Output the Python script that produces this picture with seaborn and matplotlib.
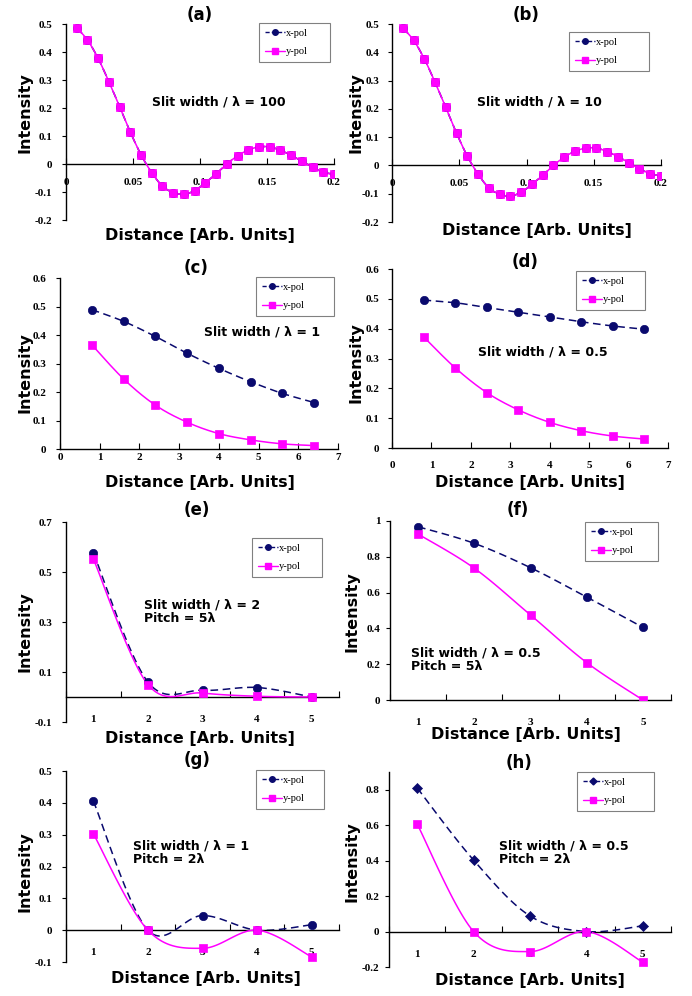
import numpy as np
import pandas as pd
import matplotlib
matplotlib.use("Agg")
import matplotlib.pyplot as plt
from matplotlib.lines import Line2D
import seaborn as sns

sns.set_style("white")
plt.rcParams['font.family'] = ['DejaVu Sans']
plt.rcParams['text.color'] = 'black'
plt.rcParams['axes.labelcolor'] = 'black'
plt.rcParams['xtick.color'] = 'black'
plt.rcParams['ytick.color'] = 'black'

# ---------------- data ----------------
dist_ab = [0.008 * k for k in range(1, 26)]
ypol_a = [0.486, 0.443, 0.377, 0.294, 0.205, 0.114, 0.033, -0.031, -0.079, -0.102,
          -0.108, -0.095, -0.067, -0.035, 0.000, 0.029, 0.050, 0.061, 0.061, 0.049,
          0.031, 0.010, -0.012, -0.029, -0.037]
xpol_a = ypol_a
ypol_b = [0.486, 0.443, 0.377, 0.294, 0.205, 0.114, 0.033, -0.031, -0.079, -0.102,
          -0.108, -0.095, -0.067, -0.035, 0.000, 0.029, 0.050, 0.061, 0.061, 0.049,
          0.031, 0.010, -0.012, -0.029, -0.037]
xpol_b = ypol_b

dist_cd = [0.8, 1.6, 2.4, 3.2, 4.0, 4.8, 5.6, 6.4]
xpol_c = [0.489, 0.448, 0.395, 0.336, 0.283, 0.236, 0.195, 0.163]
ypol_c = [0.366, 0.246, 0.154, 0.094, 0.054, 0.032, 0.018, 0.012]
xpol_d = [0.496, 0.487, 0.471, 0.455, 0.439, 0.423, 0.409, 0.398]
ypol_d = [0.373, 0.269, 0.186, 0.128, 0.086, 0.058, 0.040, 0.030]

dist_cat = [1, 2, 3, 4, 5]
xpol_e = [0.577, 0.060, 0.027, 0.038, 0.000]
ypol_e = [0.553, 0.050, 0.016, 0.003, 0.000]
xpol_f = [0.968, 0.875, 0.739, 0.575, 0.406]
ypol_f = [0.927, 0.736, 0.475, 0.209, 0.000]
xpol_g = [0.406, 0.000, 0.046, 0.000, 0.017]
ypol_g = [0.303, 0.000, -0.057, 0.000, -0.084]
xpol_h = [0.810, 0.403, 0.088, 0.000, 0.032]
ypol_h = [0.606, 0.000, -0.113, 0.000, -0.173]

series_names = ["x-pol", "y-pol"]
titles = ["(a)", "(b)", "(c)", "(d)", "(e)", "(f)", "(g)", "(h)"]
notes = ["Slit width / \u03bb = 100", "Slit width / \u03bb = 10",
         "Slit width / \u03bb = 1", "Slit width / \u03bb = 0.5",
         "Slit width / \u03bb = 2\nPitch = 5\u03bb", "Slit width / \u03bb = 0.5\nPitch = 5\u03bb",
         "Slit width / \u03bb = 1\nPitch = 2\u03bb", "Slit width / \u03bb = 0.5\nPitch = 2\u03bb"]
xlabel_text = "Distance [Arb. Units]"
ylabel_text = "Intensity"

NAVY = "#0a0a6e"
PINK = "#ff00ff"

W, H = 692, 996
fig = plt.figure(figsize=(W / 100, H / 100), dpi=100)


def rect(l, r, t, b):
    return [l / W, 1 - b / H, (r - l) / W, (b - t) / H]


def smooth(x, y, n=24):
    """Excel-like smoothed line (Catmull-Rom) through the data points."""
    x = np.asarray(x, float)
    y = np.asarray(y, float)
    P = np.column_stack([x, y])
    P = np.vstack([P[0], P, P[-1]])
    out = []
    for i in range(1, len(P) - 2):
        p0, p1, p2, p3 = P[i - 1], P[i], P[i + 1], P[i + 2]
        t = np.linspace(0, 1, n, endpoint=False)[:, None]
        pts = 0.5 * ((2 * p1) + (-p0 + p2) * t + (2 * p0 - 5 * p1 + 4 * p2 - p3) * t ** 2
                     + (-p0 + 3 * p1 - 3 * p2 + p3) * t ** 3)
        out.append(pts)
    out.append(P[-2][None, :])
    out = np.vstack(out)
    return out[:, 0], out[:, 1]


tickfont = dict(family=['Liberation Serif'], weight='bold', size=8, color='black')

panels = [
    dict(x=dist_ab, xp=xpol_a, yp=ypol_a, r=(66, 334, 24, 220), xlim=(0, 0.2), ylim=(-0.2, 0.5),
         yt=[-0.2, -0.1, 0, 0.1, 0.2, 0.3, 0.4, 0.5], xt=[0, 0.05, 0.1, 0.15, 0.2], cat=False, mk='o',
         ytl=['-0.2', '-0.1', '0', '0.1', '0.2', '0.3', '0.4', '0.5'], xtl=['0', '0.05', '0.1', '0.15', '0.2'],
         leg=(259, 23, 71, 41), title=(200, 15), note=(219, 102, 'center'), xl=(200, 235), yl=(25, 113),
         xpad=10, ypad=7),
    dict(x=dist_ab, xp=xpol_b, yp=ypol_b, r=(392, 661, 24, 222), xlim=(0, 0.2), ylim=(-0.2, 0.5),
         yt=[-0.2, -0.1, 0, 0.1, 0.2, 0.3, 0.4, 0.5], xt=[0, 0.05, 0.1, 0.15, 0.2], cat=False, mk='o',
         ytl=['-0.2', '-0.1', '0', '0.1', '0.2', '0.3', '0.4', '0.5'], xtl=['0', '0.05', '0.1', '0.15', '0.2'],
         leg=(569, 32, 80, 36), title=(526, 15), note=(539, 102, 'center'), xl=(537, 231), yl=(356, 113),
         xpad=10, ypad=6),
    dict(x=dist_cd, xp=xpol_c, yp=ypol_c, r=(60, 338, 278, 449), xlim=(0, 7), ylim=(0, 0.6),
         yt=[0, 0.1, 0.2, 0.3, 0.4, 0.5, 0.6], xt=[0, 1, 2, 3, 4, 5, 6, 7], cat=False, mk='o',
         ytl=['0', '0.1', '0.2', '0.3', '0.4', '0.5', '0.6'], xtl=['0', '1', '2', '3', '4', '5', '6', '7'],
         leg=(256, 277, 78, 35), title=(196, 268), note=(262, 332, 'center'), xl=(200, 482), yl=(25, 373),
         xpad=3, ypad=7),
    dict(x=dist_cd, xp=xpol_d, yp=ypol_d, r=(392, 668, 269, 448), xlim=(0, 7), ylim=(0, 0.6),
         yt=[0, 0.1, 0.2, 0.3, 0.4, 0.5, 0.6], xt=[0, 1, 2, 3, 4, 5, 6, 7], cat=False, mk='o',
         ytl=['0', '0.1', '0.2', '0.3', '0.4', '0.5', '0.6'], xtl=['0', '1', '2', '3', '4', '5', '6', '7'],
         leg=(576, 271, 69, 35), title=(525, 262), note=(543, 352, 'center'), xl=(530, 482), yl=(356, 363),
         xpad=9, ypad=6),
    dict(x=dist_cat, xp=xpol_e, yp=ypol_e, r=(66, 339, 522, 722), xlim=(0.5, 5.5), ylim=(-0.1, 0.7),
         yt=[-0.1, 0.1, 0.3, 0.5, 0.7], xt=dist_cat, cat=True, mk='o',
         ytl=['-0.1', '0.1', '0.3', '0.5', '0.7'], xtl=['1', '2', '3', '4', '5'],
         leg=(252, 538, 70, 29), title=(197, 510), note=(144, 612, 'left'), xl=(200, 738), yl=(25, 632),
         xpad=10, ypad=7),
    dict(x=dist_cat, xp=xpol_f, yp=ypol_f, r=(390, 671, 521, 700), xlim=(0.5, 5.5), ylim=(0, 1.0),
         yt=[0, 0.2, 0.4, 0.6, 0.8, 1.0], xt=dist_cat, cat=True, mk='o',
         ytl=['0', '0.2', '0.4', '0.6', '0.8', '1'], xtl=['1', '2', '3', '4', '5'],
         leg=(585, 522, 73, 42), title=(518, 510), note=(411, 660, 'left'), xl=(526, 734), yl=(352, 612),
         xpad=10, ypad=4),
    dict(x=dist_cat, xp=xpol_g, yp=ypol_g, r=(66, 339, 771, 962), xlim=(0.5, 5.5), ylim=(-0.1, 0.5),
         yt=[-0.1, 0, 0.1, 0.2, 0.3, 0.4, 0.5], xt=dist_cat, cat=True, mk='o',
         ytl=['-0.1', '0', '0.1', '0.2', '0.3', '0.4', '0.5'], xtl=['1', '2', '3', '4', '5'],
         leg=(256, 770, 68, 36), title=(197, 760), note=(133, 853, 'left'), xl=(206, 978), yl=(25, 872),
         xpad=10, ypad=7),
    dict(x=dist_cat, xp=xpol_h, yp=ypol_h, r=(389, 671, 772, 967), xlim=(0.5, 5.5), ylim=(-0.2, 0.9),
         yt=[-0.2, 0, 0.2, 0.4, 0.6, 0.8], xt=dist_cat, cat=True, mk='D',
         ytl=['-0.2', '0', '0.2', '0.4', '0.6', '0.8'], xtl=['1', '2', '3', '4', '5'],
         leg=(577, 772, 77, 40), title=(519, 763), note=(499, 853, 'left'), xl=(530, 980), yl=(352, 862),
         xpad=10, ypad=4),
]

for i, p in enumerate(panels):
    ax = fig.add_axes(rect(*p['r']))
    ax.set_facecolor('none')
    sx, sy = smooth(p['x'], p['xp'])
    sns.lineplot(x=sx, y=sy, ax=ax, sort=False, estimator=None, color=NAVY, lw=1.1,
                 linestyle=(0, (5, 3)), zorder=2)
    sx2, sy2 = smooth(p['x'], p['yp'])
    sns.lineplot(x=sx2, y=sy2, ax=ax, sort=False, estimator=None, color=PINK, lw=1.1, zorder=3)
    ms_x = 36 if p['mk'] == 'o' else 26
    sns.scatterplot(x=p['x'], y=p['xp'], ax=ax, marker=p['mk'], s=ms_x, color=NAVY,
                    edgecolor=NAVY, linewidth=0.5, zorder=4)
    sns.scatterplot(x=p['x'], y=p['yp'], ax=ax, marker='s', s=38, color=PINK,
                    edgecolor=PINK, linewidth=0.5, zorder=5)
    ax.set_xlim(*p['xlim'])
    ax.set_ylim(*p['ylim'])
    for s in ['top', 'right']:
        ax.spines[s].set_visible(False)
    ax.spines['left'].set_color('black')
    ax.spines['left'].set_linewidth(1.0)
    ax.spines['bottom'].set_color('black')
    ax.spines['bottom'].set_linewidth(1.0)
    ax.spines['bottom'].set_position(('data', 0))
    ax.set_yticks(p['yt'])
    ax.set_yticklabels(p['ytl'], fontdict=tickfont)
    ax.tick_params(axis='y', direction='out', length=3, width=0.8, pad=p['ypad'], left=True, color='black')
    ax.set_xticks(p['xt'])
    ax.set_xticklabels(p['xtl'], fontdict=tickfont)
    if p['cat']:
        ax.set_xticks([0.5, 1.5, 2.5, 3.5, 4.5, 5.5], minor=True)
        ax.tick_params(axis='x', which='major', length=0, pad=p['xpad'] + 3, bottom=True)
        ax.tick_params(axis='x', which='minor', direction='in', length=4, width=0.8,
                       bottom=True, color='black')
    else:
        ax.tick_params(axis='x', direction='in', length=4, width=0.8, pad=p['xpad'],
                       bottom=True, color='black')
    ax.grid(False)
    ax.set_xlabel('')
    ax.set_ylabel('')

    lx, ly, lw_, lh = p['leg']
    handles = [Line2D([], [], color=NAVY, lw=1.0, linestyle=(0, (3, 1.5)), marker=p['mk'],
                      markersize=4 if p['mk'] == 'o' else 3.5, markerfacecolor=NAVY, markeredgecolor=NAVY),
               Line2D([], [], color=PINK, lw=1.0, marker='s', markersize=5,
                      markerfacecolor=PINK, markeredgecolor=PINK)]
    leg = ax.legend(handles, series_names, loc='upper left',
                    bbox_to_anchor=(lx / W, 1 - ly / H, lw_ / W, 0), bbox_transform=fig.transFigure,
                    mode='expand', frameon=True, fancybox=False, framealpha=1, edgecolor='#808080',
                    prop=dict(family=['Liberation Serif'], size=7.5), handlelength=1.9, handletextpad=0.15,
                    borderpad=0.55, labelspacing=0.85, borderaxespad=0)
    leg.get_frame().set_linewidth(0.8)
    leg.set_zorder(10)
    for t in leg.get_texts():
        t.set_color('black')

    tx, ty = p['title']
    fig.text(tx / W, 1 - ty / H, titles[i], ha='center', va='center', fontsize=12,
             fontweight='bold', color='black')
    nx, ny, nha = p['note']
    fig.text(nx / W, 1 - ny / H, notes[i], ha=nha, va='center', fontsize=9, fontweight='bold',
             linespacing=1.05, color='black')
    xx, xy = p['xl']
    fig.text(xx / W, 1 - xy / H, xlabel_text, ha='center', va='center', fontsize=11.5,
             fontweight='bold', color='black')
    yx, yy = p['yl']
    fig.text(yx / W, 1 - yy / H, ylabel_text, ha='center', va='center', fontsize=11.5,
             fontweight='bold', rotation=90, color='black')

fig.savefig("out.png", dpi=100, facecolor='white')
